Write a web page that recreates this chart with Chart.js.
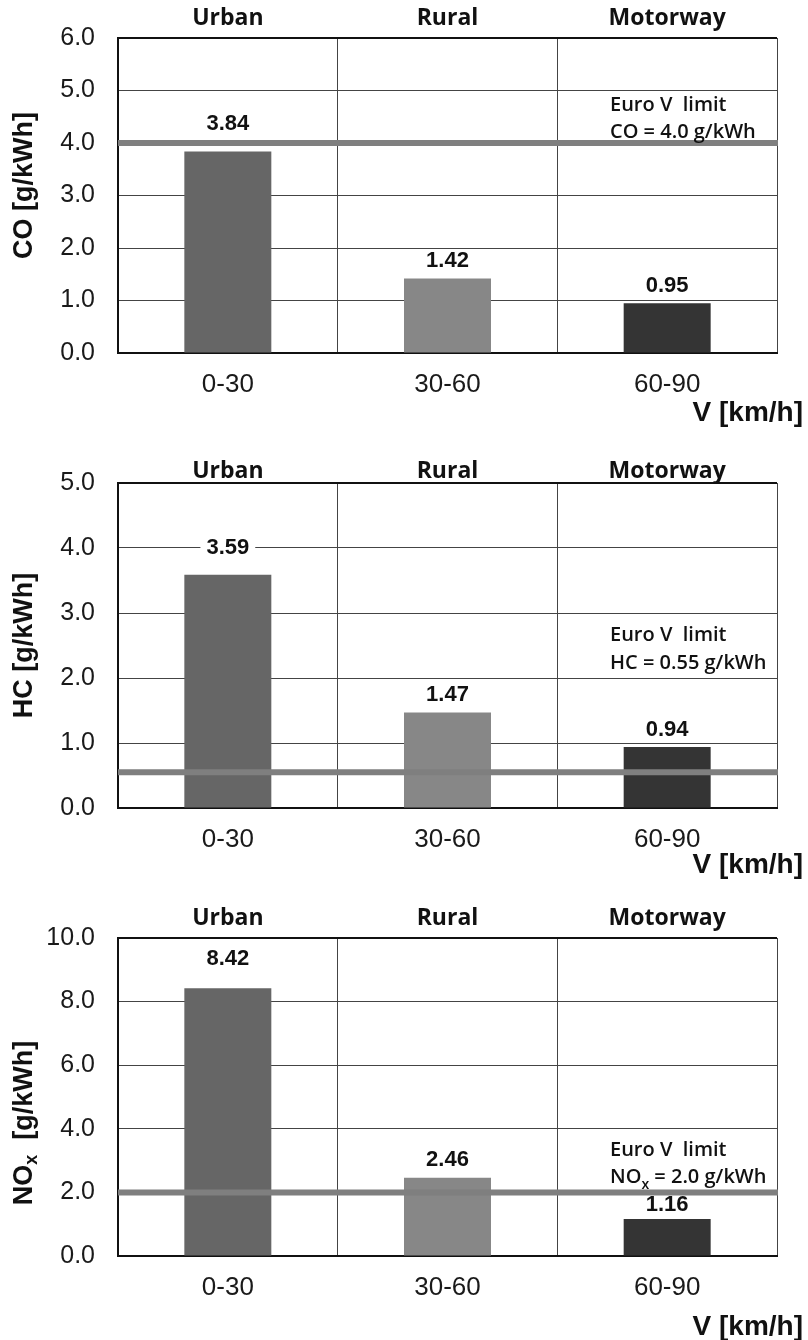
<!DOCTYPE html>
<html>
<head>
<meta charset="utf-8">
<script src="https://cdn.jsdelivr.net/npm/chart.js@4.4.1/dist/chart.umd.min.js"></script>
<style>
  html, body { margin: 0; padding: 0; background: #fff; }
  #wrap { position: relative; width: 808px; height: 1340px; }
  .panel { position: absolute; left: 0; width: 808px; }
</style>
</head>
<body>
<div id="wrap">
  <div class="panel" style="top:0;height:440px"><canvas id="coChart"></canvas></div>
  <div class="panel" style="top:440px;height:450px"><canvas id="hcChart"></canvas></div>
  <div class="panel" style="top:890px;height:450px"><canvas id="noxChart"></canvas></div>
</div>
<script>
// driving zones and speed bins
const zones = ['Urban', 'Rural', 'Motorway'];
const speedBins = ['0-30', '30-60', '60-90'];

// specific emissions, g/kWh
const coValues = [3.84, 1.42, 0.95];
const hcValues = [3.59, 1.47, 0.94];
const noxValues = [8.42, 2.46, 1.16];

// Euro V limits, g/kWh
const coLimit = 4.0;
const hcLimit = 0.55;
const noxLimit = 2.0;

const barColors = ['#666666', '#878787', '#343434'];

const ARIAL = '"Liberation Sans", Arial, sans-serif';
const CALIBRI = '"Open Sans", sans-serif';

// draws a line of text made of parts, some of them subscript
function drawParts(ctx, parts, x, y, font, subFont, align) {
  let total = 0;
  parts.forEach(p => {
    ctx.font = p.sub ? subFont : font;
    total += ctx.measureText(p.t).width;
  });
  let cx = align === 'center' ? x - total / 2 : x;
  ctx.textAlign = 'left';
  ctx.textBaseline = 'middle';
  parts.forEach(p => {
    ctx.font = p.sub ? subFont : font;
    ctx.fillText(p.t, cx, p.sub ? y + 7 : y);
    cx += ctx.measureText(p.t).width;
  });
}

const decor = {
  id: 'decor',
  afterDatasetsDraw(chart, args, o) {
    const { ctx, chartArea: a, scales: { y } } = chart;
    const meta = chart.getDatasetMeta(0);
    const data = chart.data.datasets[0].data;
    ctx.save();

    // value labels on a white box
    ctx.font = 'bold 22px ' + ARIAL;
    ctx.textAlign = 'center';
    ctx.textBaseline = 'middle';
    meta.data.forEach((bar, i) => {
      const txt = data[i].toFixed(2);
      const cy = bar.y - o.lift[i];
      const w = ctx.measureText(txt).width + 12;
      ctx.fillStyle = '#fff';
      ctx.fillRect(bar.x - w / 2, cy - 11, w, 22);
      ctx.fillStyle = '#111';
      ctx.fillText(txt, bar.x, cy);
    });

    // Euro V limit line
    const ly = y.getPixelForValue(o.limit);
    ctx.strokeStyle = '#7f7f7f';
    ctx.lineWidth = 6;
    ctx.beginPath();
    ctx.moveTo(a.left, ly);
    ctx.lineTo(a.right + 1, ly);
    ctx.stroke();

    // limit note
    ctx.fillStyle = '#111';
    const ny = y.getPixelForValue(o.noteAt);
    const nf = '600 20px ' + CALIBRI;
    drawParts(ctx, [{ t: 'Euro V  limit' }], 610, ny - 27.5, nf, nf, 'left');
    drawParts(ctx, o.note, 610, ny, nf, '600 14px ' + CALIBRI, 'left');
    ctx.restore();
  },
  afterDraw(chart, args, o) {
    const { ctx, chartArea: a, scales: { x } } = chart;
    ctx.save();
    ctx.fillStyle = '#111';

    // zone names above the plot
    ctx.font = '700 23px ' + CALIBRI;
    ctx.textAlign = 'center';
    ctx.textBaseline = 'middle';
    zones.forEach((z, i) => ctx.fillText(z, x.getPixelForValue(i), a.top - o.zoneGap));

    // x title
    ctx.font = 'bold 28px ' + ARIAL;
    ctx.textAlign = 'right';
    ctx.fillText('V [km/h]', 803, a.bottom + o.xTitleGap);

    // y title, rotated
    ctx.translate(25, (a.top + a.bottom) / 2 + o.titleShift);
    ctx.rotate(-Math.PI / 2);
    drawParts(ctx, o.yTitle, 0, 0, 'bold 27px ' + ARIAL, 'bold 18px ' + ARIAL, 'center');
    ctx.restore();
  }
};

function makeChart(id, values, s) {
  const last = Math.round(s.yMax / s.yStep);
  return new Chart(document.getElementById(id), {
    type: 'bar',
    data: {
      labels: speedBins,
      datasets: [{
        data: values,
        backgroundColor: barColors,
        categoryPercentage: 1,
        barPercentage: 0.396
      }]
    },
    plugins: [decor],
    options: {
      responsive: true,
      maintainAspectRatio: false,
      animation: false,
      layout: { padding: { left: 0, right: 31, top: s.padTop, bottom: s.padBottom } },
      plugins: {
        legend: { display: false },
        tooltip: { enabled: false },
        decor: s.decor
      },
      scales: {
        x: {
          afterFit(scale) { scale.height = 50; },
          grid: {
            offset: true,
            drawTicks: false,
            color: '#444',
            lineWidth: c => (c.index === speedBins.length ? 2 : 1)
          },
          border: { color: '#111', width: 2 },
          ticks: { color: '#1a1a1a', padding: 16, font: { family: ARIAL, size: 26 } }
        },
        y: {
          min: 0,
          max: s.yMax,
          afterFit(scale) { scale.width = 118; },
          grid: {
            drawTicks: false,
            color: c => (c.index === last ? '#111' : '#444'),
            lineWidth: c => (c.index === last ? 2 : 1)
          },
          border: { color: '#111', width: 2 },
          ticks: {
            stepSize: s.yStep,
            padding: 23,
            color: '#1a1a1a',
            font: { family: ARIAL, size: 25 },
            callback: v => Number(v).toFixed(1)
          }
        }
      }
    }
  });
}

makeChart('coChart', coValues, {
  yMax: 6, yStep: 1, padTop: 38, padBottom: 37,
  decor: {
    limit: coLimit, noteAt: 4.2, lift: [27, 18, 17],
    note: [{ t: 'CO = 4.0 g/kWh' }],
    yTitle: [{ t: 'CO [g/kWh]' }],
    zoneGap: 20, xTitleGap: 60, titleShift: -10
  }
});

makeChart('hcChart', hcValues, {
  yMax: 5, yStep: 1, padTop: 43, padBottom: 32,
  decor: {
    limit: hcLimit, noteAt: 2.23, lift: [27, 18, 17],
    note: [{ t: 'HC = 0.55 g/kWh' }],
    yTitle: [{ t: 'HC [g/kWh]' }],
    zoneGap: 12, xTitleGap: 57, titleShift: 0
  }
});

makeChart('noxChart', noxValues, {
  yMax: 10, yStep: 2, padTop: 48, padBottom: 34,
  decor: {
    limit: noxLimit, noteAt: 2.46, lift: [29, 18, 14],
    note: [{ t: 'NO' }, { t: 'x', sub: true }, { t: ' = 2.0 g/kWh' }],
    yTitle: [{ t: 'NO' }, { t: 'x', sub: true }, { t: '  [g/kWh]' }],
    zoneGap: 20, xTitleGap: 71, titleShift: 26
  }
});
</script>
</body>
</html>
